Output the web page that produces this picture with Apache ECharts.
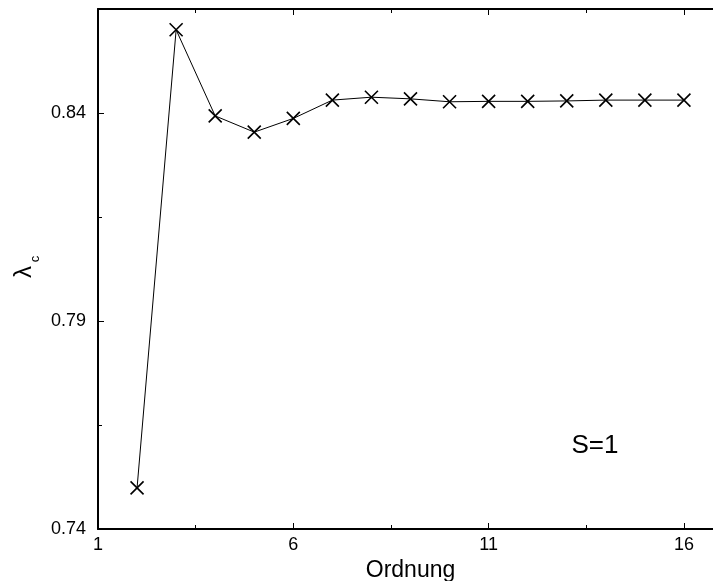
<!DOCTYPE html>
<html>
<head>
<meta charset="utf-8">
<script src="https://cdn.jsdelivr.net/npm/echarts@6/dist/echarts.min.js"></script>
<style>html,body{margin:0;padding:0;background:#fff}#c{width:713px;height:581px}</style>
</head>
<body>
<div id="c"></div>
<script>
const orders = [2,3,4,5,6,7,8,9,10,11,12,13,14,15,16];
const lambdaC = [0.7499,0.8600,0.8393,0.8354,0.8387,0.8431,0.8438,0.8434,0.8427,0.8428,0.8428,0.8429,0.8431,0.8431,0.8431];
const xTicks = [1,6,11,16];
const yTicks = [0.74,0.79,0.84];

const chart = echarts.init(document.getElementById('c'));
const font = 'Liberation Sans, Arial, sans-serif';
const cross = 'path://M0,0L10,10M10,0L0,10';
const data = orders.map((o,i)=>[o,lambdaC[i]]);
chart.setOption({
  animation:false,
  backgroundColor:'#fff',
  grid:{left:98,top:9,bottom:52,right:-10,show:false,containLabel:false,outerBoundsMode:'none'},
  xAxis:[{
    type:'value',min:1,max:17,interval:5,
    axisLine:{show:true,lineStyle:{color:'#000',width:2}},
    axisTick:{show:true,inside:true,length:6,lineStyle:{color:'#000',width:1}},
    minorTick:{show:true,splitNumber:2,length:4,lineStyle:{color:'#000'}},
    splitLine:{show:false},
    axisLabel:{color:'#000',fontSize:18,fontFamily:font,margin:7,
      formatter:v=>xTicks.indexOf(v)>=0?String(v):''},
    name:'Ordnung',nameLocation:'middle',nameGap:22,
    nameTextStyle:{color:'#000',fontSize:23,fontFamily:font}
  },{
    type:'value',min:1,max:17,interval:5,position:'top',
    axisLine:{show:true,lineStyle:{color:'#000',width:2}},
    axisTick:{show:true,inside:true,length:6,lineStyle:{color:'#000',width:1}},
    minorTick:{show:true,splitNumber:2,length:4,lineStyle:{color:'#000'}},
    splitLine:{show:false},axisLabel:{show:false}
  }],
  yAxis:{
    type:'value',min:0.74,max:0.865,interval:0.05,
    axisLine:{show:true,lineStyle:{color:'#000',width:2}},
    axisTick:{show:true,inside:true,length:6,lineStyle:{color:'#000',width:1}},
    minorTick:{show:true,splitNumber:2,length:4,lineStyle:{color:'#000'}},
    splitLine:{show:false},
    axisLabel:{color:'#000',fontSize:18,fontFamily:font,margin:12,
      formatter:v=>{const m=yTicks.find(t=>Math.abs(t-v)<1e-6);return m!==undefined?m.toFixed(2):'';}}
  },
  graphic:[
    {type:'text',x:24,y:272,rotation:Math.PI/2,style:{text:'λ',fontSize:24,fontFamily:font,fill:'#000',align:'center',verticalAlign:'middle'}},
    {type:'text',x:35,y:259,rotation:Math.PI/2,style:{text:'c',fontSize:13,fontFamily:font,fill:'#000',align:'center',verticalAlign:'middle'}},
    {type:'text',x:595,y:446,style:{text:'S=1',fontSize:26,fontFamily:font,fill:'#000',align:'center',verticalAlign:'middle'}}
  ],
  series:[{
    type:'line',data:data,xAxisIndex:0,
    symbol:cross,symbolSize:13,
    lineStyle:{color:'#000',width:1},
    itemStyle:{color:'none',borderColor:'#000',borderWidth:1.6}
  }]
});
</script>
</body>
</html>
